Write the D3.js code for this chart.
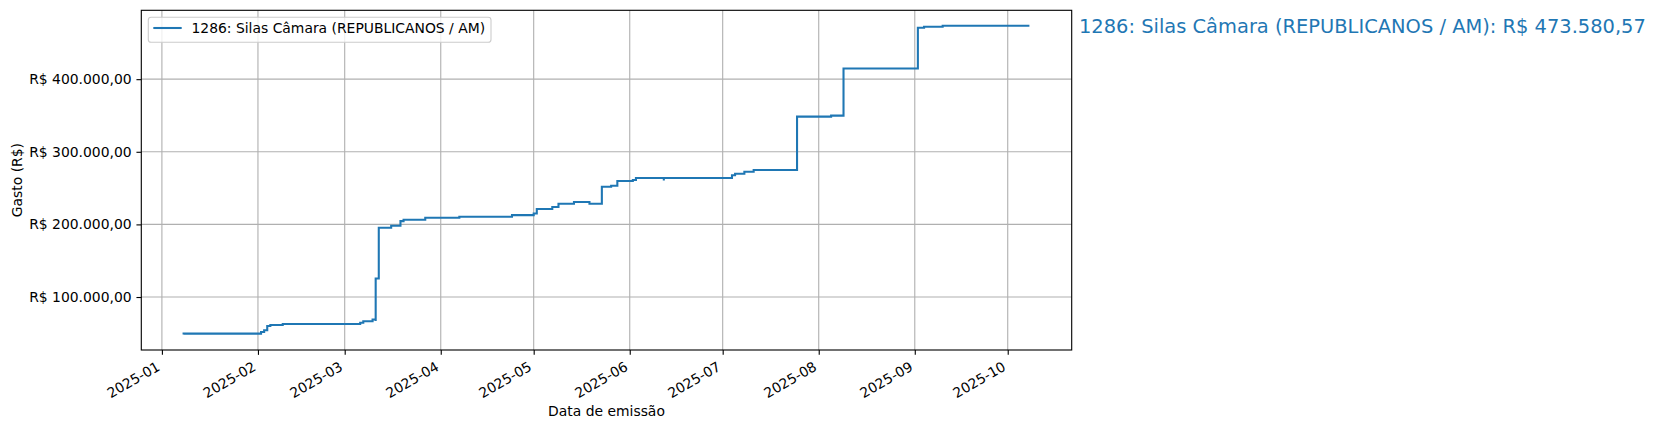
<!DOCTYPE html>
<html>
<head>
<meta charset="utf-8">
<script src="https://cdn.jsdelivr.net/npm/d3@7"></script>
<style>
  html, body { margin: 0; padding: 0; background: #ffffff; }
  svg { display: block; }
  text { font-family: "DejaVu Sans", sans-serif; fill: #000; }
</style>
</head>
<body>
<svg id="chart" width="1657" height="430"></svg>
<script>
// ---- data ----
const seriesName = "1286: Silas Câmara (REPUBLICANOS / AM)";
const dates = [
  "2025-01-08","2025-01-08","2025-02-02","2025-02-03","2025-02-04","2025-02-05","2025-02-09",
  "2025-03-06","2025-03-07","2025-03-10","2025-03-11","2025-03-11","2025-03-12","2025-03-16",
  "2025-03-19","2025-03-20","2025-03-25","2025-03-25","2025-03-27","2025-04-07","2025-04-24",
  "2025-05-01","2025-05-02","2025-05-07","2025-05-09","2025-05-14","2025-05-19","2025-05-23",
  "2025-05-26","2025-05-28","2025-06-02","2025-06-03","2025-06-12","2025-06-12","2025-07-04",
  "2025-07-05","2025-07-08","2025-07-11","2025-07-25","2025-08-05","2025-08-09","2025-09-02",
  "2025-09-04","2025-09-10","2025-10-08"
];
const cumulative = [
  48300, 49600, 51900, 54200, 60100, 61500, 62900,
  64500, 66600, 69000, 67000, 125500, 195500, 198100,
  204500, 206300, 205000, 206300, 209100, 210500, 212800,
  215000, 221100, 223900, 228400, 230800, 228400, 251900,
  253200, 259700, 261100, 263900, 260500, 263900, 267600,
  269800, 272600, 274900, 348400, 349800, 414600, 470800,
  472200, 473580.57, 473580.57
];
const yTickValues = [100000, 200000, 300000, 400000];
const xTickDates = ["2025-01-01","2025-02-01","2025-03-01","2025-04-01","2025-05-01",
                    "2025-06-01","2025-07-01","2025-08-01","2025-09-01","2025-10-01"];
const xLabel = "Data de emissão";
const yLabel = "Gasto (R$)";

// ---- setup ----
const parse = d3.utcParse("%Y-%m-%d");
const data = dates.map((d, i) => ({ t: parse(d), v: cumulative[i] }));
const brl = d3.formatLocale({ decimal: ",", thousands: ".", grouping: [3], currency: ["R$ ", ""] }).format("$,.2f");

const svg = d3.select("#chart");
svg.append("rect").attr("width", 1657).attr("height", 430).attr("fill", "#fff");

const L = 141.3, R = 1071.7, T = 10.3, B = 350;
const color = "#1f77b4";
const pt = 100 / 72;

const tExt = d3.extent(data, d => d.t);
const tPad = 0.05 * (tExt[1] - tExt[0]);
const x = d3.scaleUtc()
  .domain([new Date(+tExt[0] - tPad), new Date(+tExt[1] + tPad)])
  .range([L, R]);

const vExt = d3.extent(data, d => d.v);
const vPad = 0.05 * (vExt[1] - vExt[0]);
const y = d3.scaleLinear()
  .domain([vExt[0] - vPad, vExt[1] + vPad])
  .range([B, T]);

const xTicks = xTickDates.map(parse);

// grid
const grid = svg.append("g");
grid.selectAll("line.gx").data(xTicks).join("line")
  .attr("x1", d => x(d)).attr("x2", d => x(d)).attr("y1", T).attr("y2", B)
  .attr("stroke", "#b0b0b0").attr("stroke-width", 0.8 * pt);
grid.selectAll("line.gy").data(yTickValues).join("line")
  .attr("x1", L).attr("x2", R).attr("y1", d => y(d)).attr("y2", d => y(d))
  .attr("stroke", "#b0b0b0").attr("stroke-width", 0.8 * pt);

// line
const line = d3.line().x(d => x(d.t)).y(d => y(d.v)).curve(d3.curveStepAfter);
svg.append("path").datum(data)
  .attr("d", line).attr("fill", "none")
  .attr("stroke", color).attr("stroke-width", 1.5 * pt);

// frame
svg.append("rect").attr("x", L).attr("y", T).attr("width", R - L).attr("height", B - T)
  .attr("fill", "none").attr("stroke", "#000").attr("stroke-width", 0.8 * pt);

// y axis
const yAxis = d3.axisLeft(y).tickValues(yTickValues).tickFormat(brl)
  .tickSize(3.5 * pt).tickPadding(3.5 * pt);
const gy = svg.append("g").attr("transform", `translate(${L},0)`).call(yAxis);
gy.select(".domain").remove();
gy.selectAll(".tick line").attr("stroke", "#000").attr("stroke-width", 0.8 * pt);
gy.selectAll(".tick text").attr("font-size", "13.9px").attr("font-family", "DejaVu Sans").attr("fill", "#000");

// x axis
const xAxis = d3.axisBottom(x).tickValues(xTicks).tickFormat(d3.utcFormat("%Y-%m")).tickSize(3.5 * pt);
const gx = svg.append("g").attr("transform", `translate(0,${B})`).call(xAxis);
gx.select(".domain").remove();
gx.selectAll(".tick line").attr("stroke", "#000").attr("stroke-width", 0.8 * pt);
gx.selectAll(".tick text")
  .attr("font-size", "13.9px").attr("font-family", "DejaVu Sans").attr("fill", "#000")
  .attr("text-anchor", "end").attr("dy", null).attr("y", null)
  .attr("transform", "translate(-1.45,19.5) rotate(-30)");

// axis labels
svg.append("text").attr("x", (L + R) / 2).attr("y", 416)
  .attr("text-anchor", "middle").attr("font-size", "13.9px").text(xLabel);
svg.append("text").attr("transform", `translate(21.7,${(T + B) / 2}) rotate(-90)`)
  .attr("text-anchor", "middle").attr("font-size", "13.9px").text(yLabel);

// legend
const lg = svg.append("g");
lg.append("rect").attr("x", 148.3).attr("y", 17.3).attr("width", 342.7).attr("height", 25)
  .attr("rx", 2.8).attr("fill", "#fff").attr("fill-opacity", 0.8)
  .attr("stroke", "#cccccc").attr("stroke-width", 1.1);
lg.append("line").attr("x1", 153.3).attr("x2", 181.7).attr("y1", 28).attr("y2", 28)
  .attr("stroke", color).attr("stroke-width", 1.5 * pt);
lg.append("text").attr("x", 191.5).attr("y", 33).attr("font-size", "13.9px").text(seriesName);

// annotation
const last = data[data.length - 1];
svg.append("text").attr("x", 1079).attr("y", 32.5)
  .attr("font-size", "19.44px").attr("fill", color).style("fill", color)
  .text(`${seriesName}: ${brl(last.v)}`);
</script>
</body>
</html>
